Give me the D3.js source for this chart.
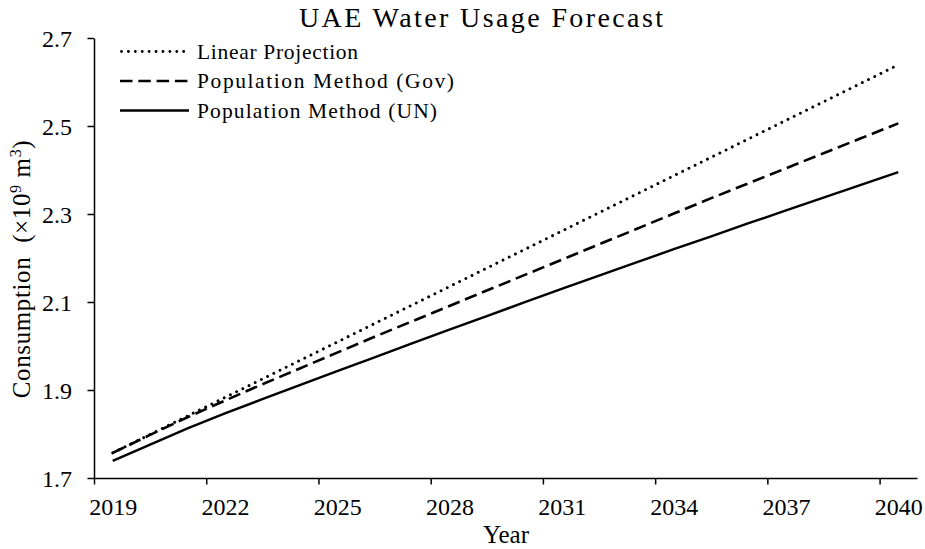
<!DOCTYPE html>
<html>
<head>
<meta charset="utf-8">
<script src="https://cdn.jsdelivr.net/npm/d3@7"></script>
<style>
  html, body { margin: 0; padding: 0; background: #fff; }
  svg { display: block; font-family: "Liberation Serif", "Times New Roman", serif; }
</style>
</head>
<body>
<svg id="chart" width="925" height="549"></svg>
<script>
const years = [2019,2020,2021,2022,2023,2024,2025,2026,2027,2028,2029,2030,2031,2032,2033,2034,2035,2036,2037,2038,2039,2040];
const linearProjection = [1.757,1.799,1.841,1.883,1.925,1.967,2.009,2.051,2.093,2.135,2.177,2.219,2.261,2.303,2.345,2.387,2.429,2.471,2.513,2.555,2.597,2.639];
const populationGov = [1.757,1.798,1.838,1.876,1.913,1.949,1.985,2.021,2.056,2.091,2.126,2.161,2.196,2.231,2.266,2.301,2.336,2.370,2.404,2.438,2.472,2.506];
const populationUN = [1.739,1.776,1.813,1.847,1.879,1.911,1.943,1.974,2.006,2.037,2.068,2.099,2.130,2.160,2.190,2.220,2.249,2.279,2.308,2.337,2.366,2.395];
const seriesNames = ["Linear Projection", "Population Method (Gov)", "Population Method (UN)"];
const xTicks = [2019,2022,2025,2028,2031,2034,2037,2040];
const yTicks = [1.7,1.9,2.1,2.3,2.5,2.7];

const series = [
  {name: seriesNames[0], values: linearProjection, dash: "0.01,6.9", width: 2.9, cap: "round", legendLen: 161},
  {name: seriesNames[1], values: populationGov, dash: "12.5,5.8", width: 2.6, cap: "butt", legendLen: 257},
  {name: seriesNames[2], values: populationUN, dash: null, width: 2.4, cap: "butt", legendLen: 240}
];

const svg = d3.select("#chart");
const x = d3.scaleLinear().domain([2019, 2041]).range([94, 917]);
const y = d3.scaleLinear().domain([1.7, 2.7]).range([478, 38]);
const halfYear = x(2019.5) - x(2019);

// X axis
const xAxis = svg.append("g").attr("transform", `translate(0,${y(1.7)})`)
  .call(d3.axisBottom(x).tickValues(xTicks).tickFormat(d3.format("d")).tickSize(6.5).tickSizeOuter(0));
xAxis.select(".domain").attr("stroke", "#000").attr("stroke-width", 1.5);
xAxis.selectAll(".tick line").attr("stroke", "#000").attr("stroke-width", 1.5);
xAxis.selectAll(".tick text")
  .attr("x", halfYear).attr("y", 0).attr("dy", null)
  .attr("transform", "translate(0,37)")
  .attr("font-size", 24).attr("font-family", "Liberation Serif").attr("fill", "#000");

// Y axis
const yAxis = svg.append("g").attr("transform", `translate(${x(2019)},0)`)
  .call(d3.axisLeft(y).tickValues(yTicks).tickFormat(d3.format(".1f")).tickSize(6.5).tickSizeOuter(0));
yAxis.select(".domain").attr("stroke", "#000").attr("stroke-width", 1.5);
yAxis.selectAll(".tick line").attr("stroke", "#000").attr("stroke-width", 1.5);
yAxis.selectAll(".tick text")
  .attr("x", -22).attr("dy", "0.34em")
  .attr("font-size", 24).attr("font-family", "Liberation Serif").attr("fill", "#000");

// Lines
const line = d3.line().x((d, i) => x(years[i] + 0.5)).y(d => y(d));
series.forEach(s => {
  svg.append("path")
    .attr("d", line(s.values))
    .attr("fill", "none")
    .attr("stroke", "#000")
    .attr("stroke-width", s.width)
    .attr("stroke-dasharray", s.dash)
    .attr("stroke-linecap", s.cap)
    .attr("stroke-linejoin", "round");
});

// Title
svg.append("text").attr("x", 481).attr("y", 27).attr("text-anchor", "middle")
  .attr("font-size", 28).attr("fill", "#000")
  .attr("textLength", 364).attr("lengthAdjust", "spacing")
  .text("UAE Water Usage Forecast");

// X label
svg.append("text").attr("x", 506).attr("y", 543).attr("text-anchor", "middle")
  .attr("font-size", 25).attr("fill", "#000")
  .text("Year");

// Y label
const yl = svg.append("text").attr("transform", "translate(30,269) rotate(-90)")
  .attr("text-anchor", "middle").attr("font-size", 25).attr("fill", "#000");
yl.append("tspan").text("Consumption\u00A0\u00A0(\u00D710");
yl.append("tspan").attr("font-size", 16).attr("dy", -9).text("9");
yl.append("tspan").attr("dy", 9).text(" m");
yl.append("tspan").attr("font-size", 16).attr("dy", -9).text("3");
yl.append("tspan").attr("dy", 9).text(")");
{
  const natural = yl.node().getComputedTextLength();
  const nChars = yl.text().length;
  const extra = (258 - natural) / (nChars - 1);
  if (extra > 0) yl.attr("letter-spacing", extra.toFixed(2));
}

// Legend
const legend = svg.append("g");
series.forEach((s, i) => {
  const cy = 51.5 + i * 29.5;
  legend.append("line")
    .attr("x1", s.cap === "round" ? 121.5 : 120).attr("x2", 189).attr("y1", cy).attr("y2", cy)
    .attr("stroke", "#000").attr("stroke-width", s.width)
    .attr("stroke-dasharray", s.dash)
    .attr("stroke-linecap", s.cap);
  legend.append("text").attr("x", 197).attr("y", cy).attr("dy", "0.33em")
    .attr("font-size", 21.5).attr("fill", "#000")
    .attr("textLength", s.legendLen).attr("lengthAdjust", "spacing")
    .text(s.name);
});
</script>
</body>
</html>
